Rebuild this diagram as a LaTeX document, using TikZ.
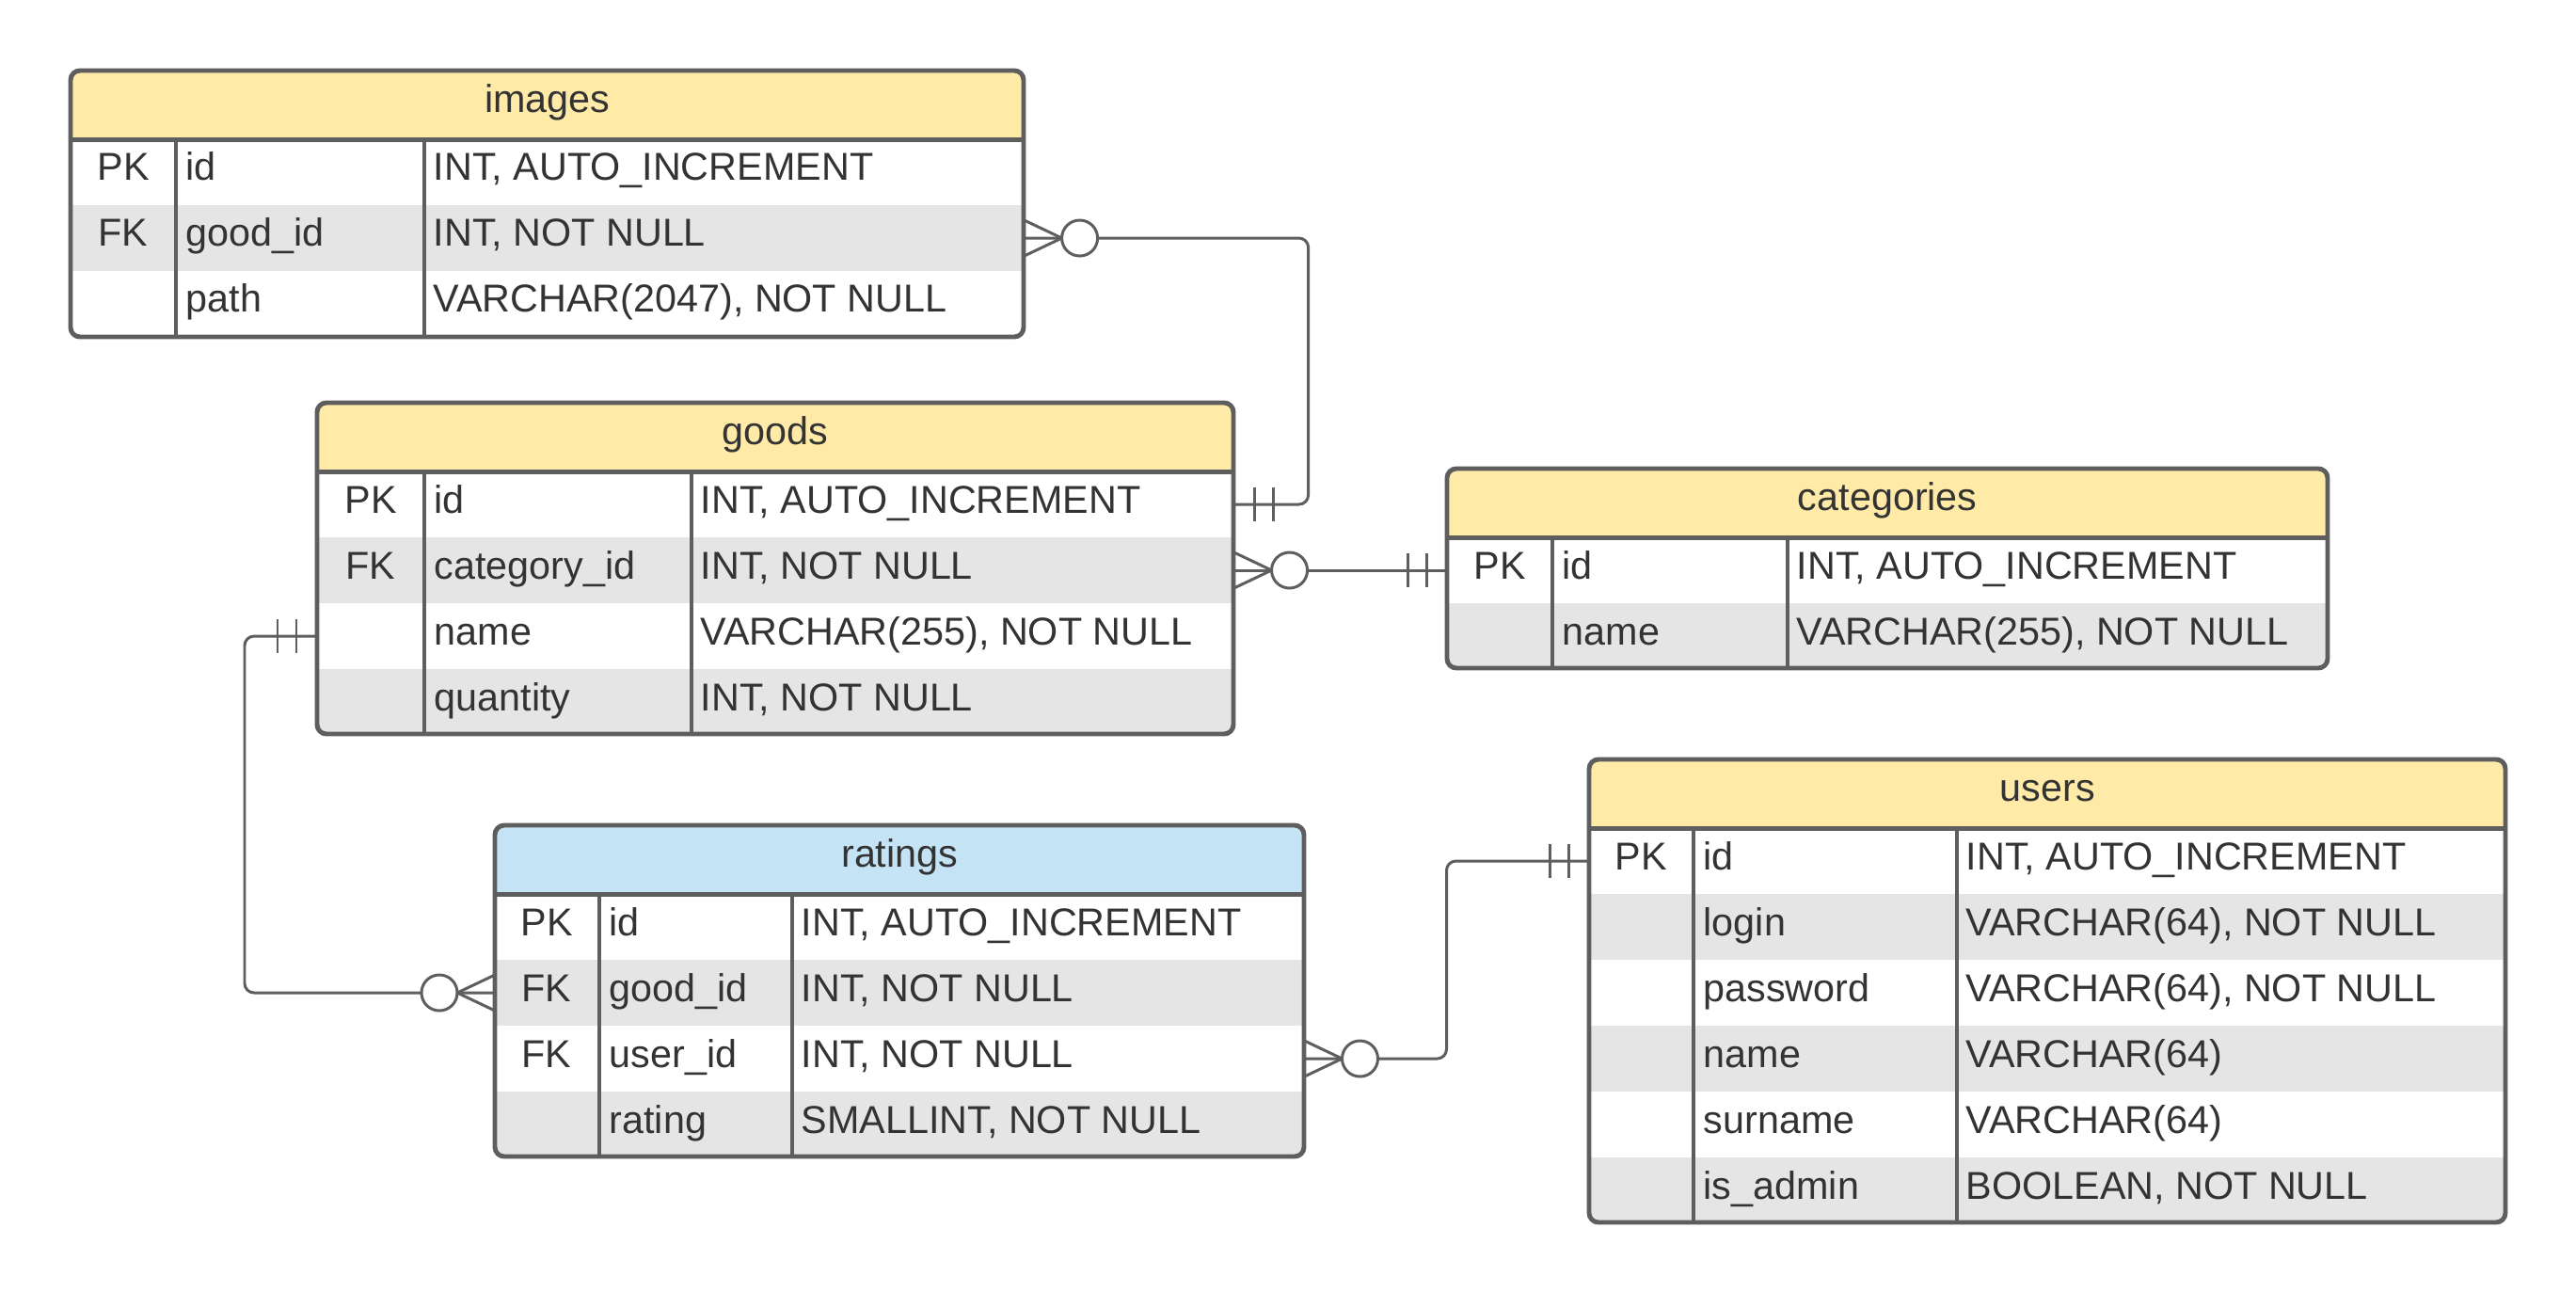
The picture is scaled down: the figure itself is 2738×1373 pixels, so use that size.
\documentclass[tikz,border=0pt]{standalone}
\usepackage{fontspec}
\setmainfont{Liberation Sans}
\usepackage{xcolor}
\usepackage{tikz}
\usetikzlibrary{arrows.meta}
\definecolor{linegray}{HTML}{5E5E5E}
\definecolor{headyellow}{HTML}{FFEAA7}
\definecolor{headblue}{HTML}{C4E3F5}
\definecolor{rowgray}{HTML}{E5E5E5}
\definecolor{textgray}{HTML}{333333}

\begin{document}
\begin{tikzpicture}[x=0.01cm, y=-0.01cm, font=\fontsize{11.75}{13}\selectfont,
  frame/.style={draw=linegray, line width=1.4pt},
  link/.style={draw=linegray, line width=0.85pt},
  headbox/.style={anchor=north west, inner sep=0, outer sep=0, minimum height=0.73cm, text=textgray, text height=7.8pt, text depth=3pt},
  rowbox/.style={anchor=north west, inner sep=0, outer sep=0, minimum height=0.7cm},
  keytext/.style={anchor=base, inner sep=0, text=textgray},
  celltext/.style={anchor=base west, inner sep=0, text=textgray},
  many/.pic={\draw[link] (0,-19) -- (40,0) -- (0,19); \draw[link, fill=white] (59,0) circle[radius=0.19cm];},
  one/.pic={\draw[link] (22,-18) -- (22,18) (42,-18) -- (42,18);}]
\useasboundingbox (0,0) rectangle (2738,1373);
%images
\begin{scope}[rowbox/.append style={minimum width=10.13cm}, headbox/.append style={minimum width=10.13cm}]
\clip[rounded corners=0.1cm] (75,75) rectangle (1088,358);
\node[headbox, fill=headyellow] (img-head) at (75,75) {images};
\node[rowbox] (img-id) at (75,148) {};
\node[rowbox, fill=rowgray] (img-good) at (75,218) {};
\node[rowbox] (img-path) at (75,288) {};
\end{scope}
\draw[frame, rounded corners=0.1cm] (75,75) rectangle (1088,358);
\draw[frame] (img-head.south west) -- (img-head.south east);
\draw[frame] (187,148) -- (187,358) (451,148) -- (451,358);
\node[keytext] (img-id-k) at (131,192) {PK};
\node[celltext] (img-id-f) at (197,192) {id};
\node[celltext] (img-id-t) at (460,192) {INT, AUTO\_INCREMENT};
\node[keytext] (img-good-k) at (131,262) {FK};
\node[celltext] (img-good-f) at (197,262) {good\_id};
\node[celltext] (img-good-t) at (460,262) {INT, NOT NULL};
\node[celltext] (img-path-f) at (197,332) {path};
\node[celltext] (img-path-t) at (460,332) {VARCHAR(2047), NOT NULL};
%goods
\begin{scope}[rowbox/.append style={minimum width=9.74cm}, headbox/.append style={minimum width=9.74cm}]
\clip[rounded corners=0.1cm] (337,428) rectangle (1311,780);
\node[headbox, fill=headyellow] (goods-head) at (337,428) {goods};
\node[rowbox] (goods-id) at (337,501) {};
\node[rowbox, fill=rowgray] (goods-cat) at (337,571) {};
\node[rowbox] (goods-name) at (337,641) {};
\node[rowbox, fill=rowgray] (goods-qty) at (337,711) {};
\end{scope}
\draw[frame, rounded corners=0.1cm] (337,428) rectangle (1311,780);
\draw[frame] (goods-head.south west) -- (goods-head.south east);
\draw[frame] (451,501) -- (451,780) (735,501) -- (735,780);
\node[keytext] (goods-id-k) at (394,545) {PK};
\node[celltext] (goods-id-f) at (461,545) {id};
\node[celltext] (goods-id-t) at (744,545) {INT, AUTO\_INCREMENT};
\node[keytext] (goods-cat-k) at (394,615) {FK};
\node[celltext] (goods-cat-f) at (461,615) {category\_id};
\node[celltext] (goods-cat-t) at (744,615) {INT, NOT NULL};
\node[celltext] (goods-name-f) at (461,685) {name};
\node[celltext] (goods-name-t) at (744,685) {VARCHAR(255), NOT NULL};
\node[celltext] (goods-qty-f) at (461,755) {quantity};
\node[celltext] (goods-qty-t) at (744,755) {INT, NOT NULL};
%categories
\begin{scope}[rowbox/.append style={minimum width=9.36cm}, headbox/.append style={minimum width=9.36cm}]
\clip[rounded corners=0.1cm] (1538,498) rectangle (2474,710);
\node[headbox, fill=headyellow] (cat-head) at (1538,498) {categories};
\node[rowbox] (cat-id) at (1538,571) {};
\node[rowbox, fill=rowgray] (cat-name) at (1538,641) {};
\end{scope}
\draw[frame, rounded corners=0.1cm] (1538,498) rectangle (2474,710);
\draw[frame] (cat-head.south west) -- (cat-head.south east);
\draw[frame] (1650,571) -- (1650,710) (1900,571) -- (1900,710);
\node[keytext] (cat-id-k) at (1594,615) {PK};
\node[celltext] (cat-id-f) at (1660,615) {id};
\node[celltext] (cat-id-t) at (1909,615) {INT, AUTO\_INCREMENT};
\node[celltext] (cat-name-f) at (1660,685) {name};
\node[celltext] (cat-name-t) at (1909,685) {VARCHAR(255), NOT NULL};
%users
\begin{scope}[rowbox/.append style={minimum width=9.74cm}, headbox/.append style={minimum width=9.74cm}]
\clip[rounded corners=0.1cm] (1689,807) rectangle (2663,1299);
\node[headbox, fill=headyellow] (usr-head) at (1689,807) {users};
\node[rowbox] (usr-id) at (1689,880) {};
\node[rowbox, fill=rowgray] (usr-login) at (1689,950) {};
\node[rowbox] (usr-pass) at (1689,1020) {};
\node[rowbox, fill=rowgray] (usr-name) at (1689,1090) {};
\node[rowbox] (usr-sur) at (1689,1160) {};
\node[rowbox, fill=rowgray] (usr-admin) at (1689,1230) {};
\end{scope}
\draw[frame, rounded corners=0.1cm] (1689,807) rectangle (2663,1299);
\draw[frame] (usr-head.south west) -- (usr-head.south east);
\draw[frame] (1800,880) -- (1800,1299) (2080,880) -- (2080,1299);
\node[keytext] (usr-id-k) at (1744,924) {PK};
\node[celltext] (usr-id-f) at (1810,924) {id};
\node[celltext] (usr-id-t) at (2089,924) {INT, AUTO\_INCREMENT};
\node[celltext] (usr-login-f) at (1810,994) {login};
\node[celltext] (usr-login-t) at (2089,994) {VARCHAR(64), NOT NULL};
\node[celltext] (usr-pass-f) at (1810,1064) {password};
\node[celltext] (usr-pass-t) at (2089,1064) {VARCHAR(64), NOT NULL};
\node[celltext] (usr-name-f) at (1810,1134) {name};
\node[celltext] (usr-name-t) at (2089,1134) {VARCHAR(64)};
\node[celltext] (usr-sur-f) at (1810,1204) {surname};
\node[celltext] (usr-sur-t) at (2089,1204) {VARCHAR(64)};
\node[celltext] (usr-admin-f) at (1810,1274) {is\_admin};
\node[celltext] (usr-admin-t) at (2089,1274) {BOOLEAN, NOT NULL};
%ratings
\begin{scope}[rowbox/.append style={minimum width=8.6cm}, headbox/.append style={minimum width=8.6cm}]
\clip[rounded corners=0.1cm] (526,877) rectangle (1386,1229);
\node[headbox, fill=headblue] (rat-head) at (526,877) {ratings};
\node[rowbox] (rat-id) at (526,950) {};
\node[rowbox, fill=rowgray] (rat-good) at (526,1020) {};
\node[rowbox] (rat-user) at (526,1090) {};
\node[rowbox, fill=rowgray] (rat-val) at (526,1160) {};
\end{scope}
\draw[frame, rounded corners=0.1cm] (526,877) rectangle (1386,1229);
\draw[frame] (rat-head.south west) -- (rat-head.south east);
\draw[frame] (637,950) -- (637,1229) (842,950) -- (842,1229);
\node[keytext] (rat-id-k) at (581,994) {PK};
\node[celltext] (rat-id-f) at (647,994) {id};
\node[celltext] (rat-id-t) at (851,994) {INT, AUTO\_INCREMENT};
\node[keytext] (rat-good-k) at (581,1064) {FK};
\node[celltext] (rat-good-f) at (647,1064) {good\_id};
\node[celltext] (rat-good-t) at (851,1064) {INT, NOT NULL};
\node[keytext] (rat-user-k) at (581,1134) {FK};
\node[celltext] (rat-user-f) at (647,1134) {user\_id};
\node[celltext] (rat-user-t) at (851,1134) {INT, NOT NULL};
\node[celltext] (rat-val-f) at (647,1204) {rating};
\node[celltext] (rat-val-t) at (851,1204) {SMALLINT, NOT NULL};
%relations
\draw[link, rounded corners=0.1cm] (img-good.east) -- ++(302,0) |- (goods-id.east);
\pic at (img-good.east) {many};
\pic at (goods-id.east) {one};
\draw[link] (goods-cat.east) -- (cat-id.west);
\pic at (goods-cat.east) {many};
\pic[xscale=-1] at (cat-id.west) {one};
\draw[link, rounded corners=0.1cm] (goods-name.west) -- ++(-77,0) |- (rat-good.west);
\pic[xscale=-1] at (goods-name.west) {one};
\pic[xscale=-1] at (rat-good.west) {many};
\draw[link, rounded corners=0.1cm] (rat-user.east) -- ++(151,0) |- (usr-id.west);
\pic at (rat-user.east) {many};
\pic[xscale=-1] at (usr-id.west) {one};
\end{tikzpicture}
\end{document}
